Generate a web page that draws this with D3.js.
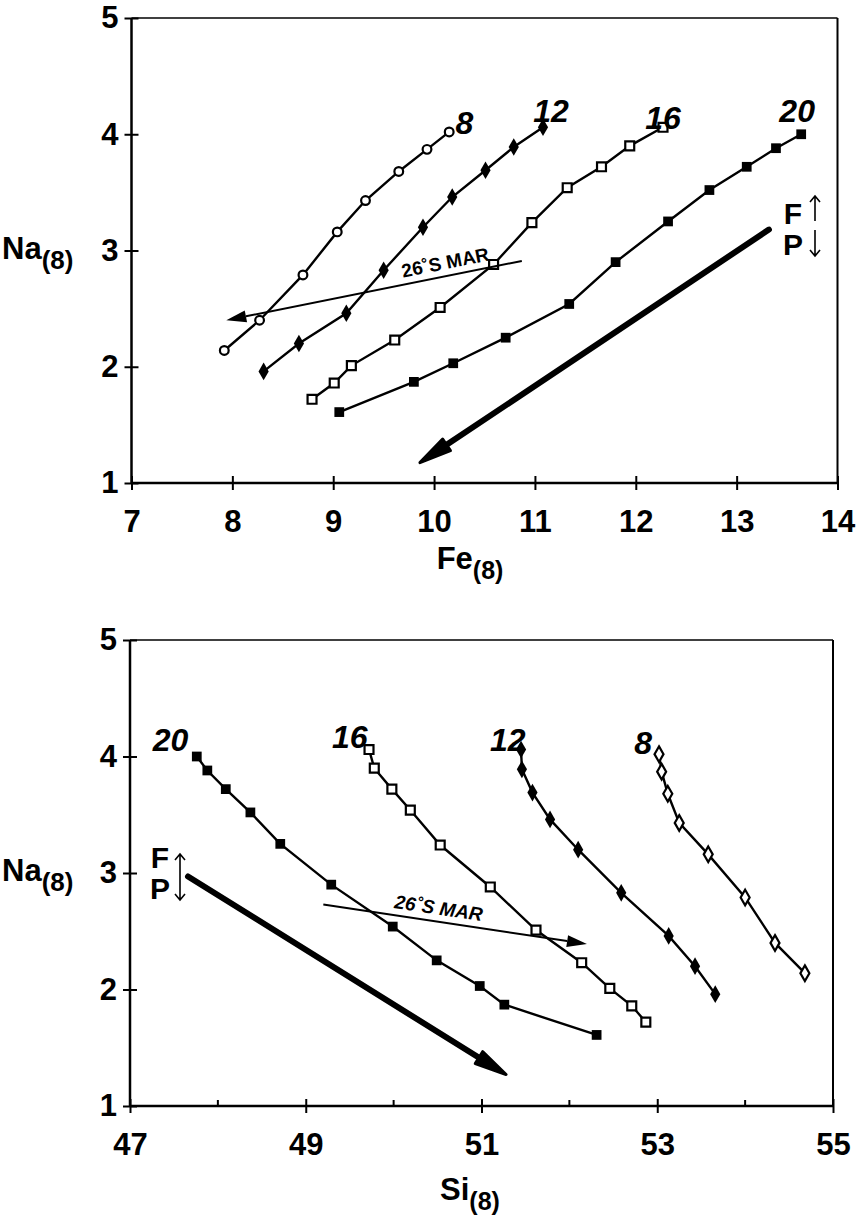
<!DOCTYPE html>
<html>
<head>
<meta charset="utf-8">
<script src="https://cdn.jsdelivr.net/npm/d3@7"></script>
<style>
  body { margin: 0; background: #fff; }
  text { font-family: "Liberation Sans", Arial, sans-serif; font-weight: bold; fill: #000; }
</style>
</head>
<body>
<svg id="chart" width="858" height="1218"></svg>
<script>
// melting model curves, labelled by the mean pressure of melting
const curveNames = ["8", "12", "16", "20"];

// Na(8) of each step along the curves (same steps on both panels)
const na8  = [2.14, 2.40, 2.79, 3.16, 3.43, 3.68, 3.87, 4.02];
const na12 = [1.96, 2.20, 2.46, 2.83, 3.20, 3.46, 3.69, 3.89, 4.06];
const na16 = [1.72, 1.86, 2.01, 2.23, 2.51, 2.88, 3.24, 3.54, 3.72, 3.90, 4.06];
const na20 = [1.61, 1.87, 2.03, 2.25, 2.54, 2.90, 3.25, 3.52, 3.72, 3.88, 4.00];

// Fe(8) values (top panel)
const fe8  = [7.92, 8.27, 8.70, 9.04, 9.32, 9.65, 9.93, 10.15];
const fe12 = [8.31, 8.66, 9.13, 9.50, 9.89, 10.18, 10.51, 10.79, 11.08];
const fe16 = [8.79, 9.01, 9.18, 9.61, 10.06, 10.59, 10.97, 11.32, 11.66, 11.94, 12.27];
const fe20 = [9.06, 9.80, 10.19, 10.71, 11.34, 11.80, 12.32, 12.73, 13.10, 13.39, 13.64];

// Si(8) values (bottom panel)
const si8  = [54.68, 54.34, 54.00, 53.58, 53.25, 53.12, 53.05, 53.02];
const si12 = [53.66, 53.43, 53.13, 52.59, 52.10, 51.78, 51.58, 51.46, 51.45];
const si16 = [52.87, 52.71, 52.46, 52.14, 51.62, 51.10, 50.53, 50.19, 49.98, 49.78, 49.72];
const si20 = [52.31, 51.26, 50.98, 50.49, 49.99, 49.29, 48.71, 48.37, 48.09, 47.88, 47.76];

// axis ticks
const feTicks = [7, 8, 9, 10, 11, 12, 13, 14];
const siTicks = [47, 49, 51, 53, 55];
const siMinorTicks = [48, 50, 52, 54];
const naTicks = [1, 2, 3, 4, 5];

// arrows: [x, y] start and end in data units
const feTrend = [[13.32, 3.18], [9.86, 1.175]];
const feMar = [[10.87, 2.91], [7.94, 2.40]];
const siTrend = [[47.66, 2.97], [51.28, 1.27]];
const siMar = [[49.20, 2.73], [52.20, 2.39]];

// curve label anchors (data units)
const feLabelPos = [[10.30, 4.10], [11.16, 4.20], [12.27, 4.14], [13.60, 4.20]];
const siLabelPos = [[52.84, 4.12], [51.30, 4.14], [49.50, 4.17], [47.46, 4.14]];

const naLists = [na8, na12, na16, na20];
const feLists = [fe8, fe12, fe16, fe20];
const siLists = [si8, si12, si16, si20];

const svg = d3.select("#chart");

const panels = [
  {
    xDomain: [7, 14], xRange: [131.5, 837.5], yRange: [483, 18],
    xs: feLists, ticks: feTicks, minor: [], labelPos: feLabelPos,
    trend: feTrend, mar: feMar, xLabel: "Fe", titleY: 86, top: true
  },
  {
    xDomain: [47, 55], xRange: [130, 833], yRange: [1106, 640],
    xs: siLists, ticks: siTicks, minor: siMinorTicks, labelPos: siLabelPos,
    trend: siTrend, mar: siMar, xLabel: "Si", titleY: 94, top: false
  }
];

panels.forEach(p => drawPanel(p));

function drawPanel(p) {
  const x = d3.scaleLinear().domain(p.xDomain).range(p.xRange);
  const y = d3.scaleLinear().domain([1, 5]).range(p.yRange);
  const g = svg.append("g");

  // frame: top and right borders
  g.append("line").attr("x1", p.xRange[0]).attr("x2", p.xRange[1])
    .attr("y1", p.yRange[1]).attr("y2", p.yRange[1])
    .attr("stroke", "#000").attr("stroke-width", 1.5);
  g.append("line").attr("x1", p.xRange[1]).attr("x2", p.xRange[1])
    .attr("y1", p.yRange[0]).attr("y2", p.yRange[1])
    .attr("stroke", "#000").attr("stroke-width", 2);

  // x axis, ticks cross the line
  const xAxis = g.append("g")
    .attr("transform", `translate(0,${p.yRange[0]})`)
    .call(d3.axisBottom(x).tickValues(p.ticks).tickSize(7).tickPadding(20).tickFormat(d3.format("d")));
  xAxis.select(".domain").attr("stroke-width", 2.5).attr("d", `M${p.xRange[0]},0H${p.xRange[1]}`);
  xAxis.selectAll(".tick line").attr("y1", -7).attr("stroke-width", 2);
  xAxis.selectAll(".tick text").attr("font-size", 31).attr("font-family", null).attr("fill", "#000");
  p.minor.forEach(v => {
    g.append("line").attr("x1", x(v)).attr("x2", x(v))
      .attr("y1", p.yRange[0]).attr("y2", p.yRange[0] - 6)
      .attr("stroke", "#000").attr("stroke-width", 2);
  });

  // y axis
  const yAxis = g.append("g")
    .attr("transform", `translate(${p.xRange[0]},0)`)
    .call(d3.axisLeft(y).tickValues(naTicks).tickSize(7).tickPadding(6).tickFormat(d3.format("d")));
  yAxis.select(".domain").attr("stroke-width", 2.5).attr("d", `M0,${p.yRange[0]}V${p.yRange[1]}`);
  yAxis.selectAll(".tick line").attr("x2", -7).attr("x1", 7).attr("stroke-width", 2);
  yAxis.selectAll(".tick text").attr("font-size", 31).attr("font-family", null).attr("fill", "#000");

  // Na(8) axis title beside the "3" tick
  const naT = g.append("text").attr("x", 2).attr("y", y(3) + 8).attr("font-size", 31);
  naT.append("tspan").text("Na");
  naT.append("tspan").attr("font-size", 26).attr("dy", 10).text("(8)");

  // x axis title
  const xT = g.append("text").attr("x", 470).attr("y", p.yRange[0] + p.titleY)
    .attr("text-anchor", "middle").attr("font-size", 31);
  xT.append("tspan").text(p.xLabel);
  xT.append("tspan").attr("font-size", 25).attr("dy", 10).text("(8)");

  // model curves
  const line = d3.line().x(d => x(d[0])).y(d => y(d[1]));
  curveNames.forEach((name, i) => {
    const pts = p.xs[i].map((v, j) => [v, naLists[i][j]]);
    g.append("path").datum(pts).attr("d", line)
      .attr("fill", "none").attr("stroke", "#000").attr("stroke-width", 2.4);

    const mk = g.append("g").selectAll("path").data(pts).join("path")
      .attr("transform", d => `translate(${x(d[0])},${y(d[1])})`);
    if (i === 0) {
      mk.attr("d", p.top ? d3.symbol(d3.symbolCircle, 60)() : d3.symbol(d3.symbolDiamond, 70)())
        .attr("fill", "#fff").attr("stroke", "#000").attr("stroke-width", 2.2);
    } else if (i === 1) {
      mk.attr("d", d3.symbol(d3.symbolDiamond, 90)()).attr("fill", "#000");
    } else if (i === 2) {
      mk.attr("d", d3.symbol(d3.symbolSquare, 80)())
        .attr("fill", "#fff").attr("stroke", "#000").attr("stroke-width", 2.2);
    } else {
      mk.attr("d", d3.symbol(d3.symbolSquare, 95)()).attr("fill", "#000");
    }

    const lp = p.labelPos[i];
    g.append("text").attr("x", x(lp[0])).attr("y", y(lp[1]) + 11)
      .attr("text-anchor", "middle").attr("font-size", 32).attr("font-style", "italic")
      .text(name);
  });

  // heavy fractionation / pressure trend arrow
  heavyArrow(g, [x(p.trend[0][0]), y(p.trend[0][1])], [x(p.trend[1][0]), y(p.trend[1][1])]);

  // thin 26°S MAR arrow
  const a0 = [x(p.mar[0][0]), y(p.mar[0][1])];
  const a1 = [x(p.mar[1][0]), y(p.mar[1][1])];
  thinArrow(g, a0, a1);
  const ang = Math.atan2(a1[1] - a0[1], a1[0] - a0[0]) * 180 / Math.PI;
  const rot = Math.abs(ang) > 90 ? ang + 180 : ang;
  const t = p.top ? 0.25 : 0.43;
  const mx = a0[0] + (a1[0] - a0[0]) * t, my = a0[1] + (a1[1] - a0[1]) * t;
  g.append("text")
    .attr("transform", `translate(${mx},${my}) rotate(${rot}) translate(0,-7)`)
    .attr("text-anchor", "middle").attr("font-size", 19)
    .attr("font-style", p.top ? null : "italic")
    .text("26˚S MAR");

  // F / P key
  const kx = p.top ? 793 : 160;
  const ky = p.top ? 224 : 868;
  g.append("text").attr("x", kx).attr("y", ky).attr("text-anchor", "middle").attr("font-size", 30).text("F");
  g.append("text").attr("x", kx).attr("y", ky + 31).attr("text-anchor", "middle").attr("font-size", 30).text("P");
  if (p.top) {
    keyArrow(g, kx + 22, ky - 3, ky - 28);
    keyArrow(g, kx + 22, ky + 6, ky + 32);
  } else {
    keyArrow(g, kx + 20, ky + 8, ky - 14);
    keyArrow(g, kx + 20, ky + 8, ky + 32);
  }
}

function heavyArrow(g, p0, p1) {
  const dx = p1[0] - p0[0], dy = p1[1] - p0[1];
  const len = Math.hypot(dx, dy);
  const ux = dx / len, uy = dy / len, nx = -uy, ny = ux;
  const hl = 32, hw = 7;
  const b = [p1[0] - ux * hl, p1[1] - uy * hl];
  g.append("line").attr("x1", p0[0]).attr("y1", p0[1]).attr("x2", b[0] + ux * 4).attr("y2", b[1] + uy * 4)
    .attr("stroke", "#000").attr("stroke-width", 6).attr("stroke-linecap", "round");
  g.append("path")
    .attr("d", `M${p1[0]},${p1[1]}L${b[0] + nx * hw},${b[1] + ny * hw}L${b[0] - nx * hw},${b[1] - ny * hw}Z`)
    .attr("fill", "#000").attr("stroke", "#000").attr("stroke-width", 3).attr("stroke-linejoin", "round");
}

function thinArrow(g, p0, p1) {
  const dx = p1[0] - p0[0], dy = p1[1] - p0[1];
  const len = Math.hypot(dx, dy);
  const ux = dx / len, uy = dy / len, nx = -uy, ny = ux;
  const hl = 20, hw = 6;
  const b = [p1[0] - ux * hl, p1[1] - uy * hl];
  g.append("line").attr("x1", p0[0]).attr("y1", p0[1]).attr("x2", b[0]).attr("y2", b[1])
    .attr("stroke", "#000").attr("stroke-width", 2);
  g.append("path")
    .attr("d", `M${p1[0]},${p1[1]}L${b[0] + nx * hw},${b[1] + ny * hw}L${b[0] - nx * hw},${b[1] - ny * hw}Z`)
    .attr("fill", "#000");
}

function keyArrow(g, kx, yFrom, yTo) {
  const s = yTo < yFrom ? 1 : -1;
  g.append("path")
    .attr("d", `M${kx},${yFrom}V${yTo}M${kx - 5},${yTo + 6 * s}L${kx},${yTo}L${kx + 5},${yTo + 6 * s}`)
    .attr("fill", "none").attr("stroke", "#000").attr("stroke-width", 1.6);
}
</script>
</body>
</html>
